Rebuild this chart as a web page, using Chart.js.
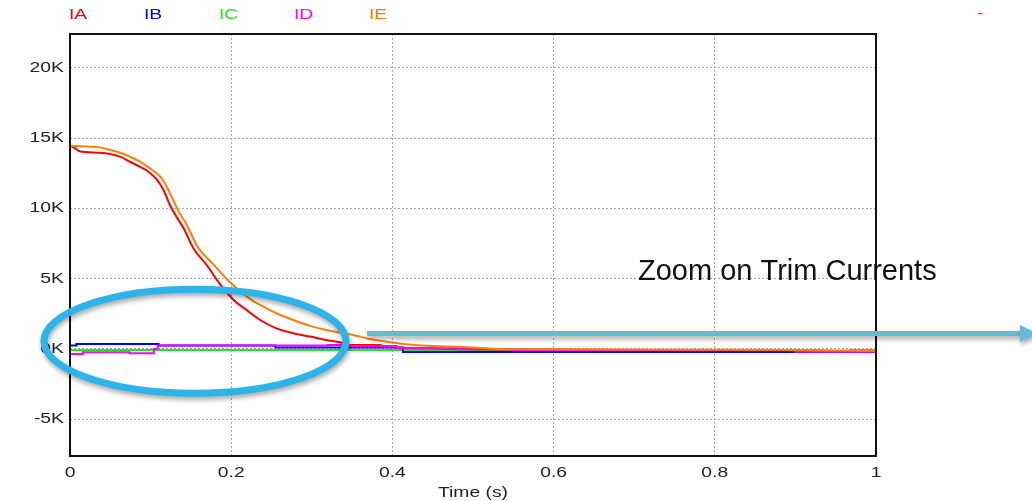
<!DOCTYPE html>
<html>
<head>
<meta charset="utf-8">
<script src="https://cdn.jsdelivr.net/npm/chart.js@4.4.0/dist/chart.umd.min.js"></script>
<style>
    html, body { margin: 0; padding: 0; background: #fff; }
</style>
</head>
<body>
<canvas id="myChart" width="1032" height="501"></canvas>
<script>
// trim currents, time in seconds, current in amps
const iaTime = [0, 0.006, 0.012, 0.037, 0.062, 0.074, 0.087, 0.099, 0.108, 0.116, 0.124, 0.132, 0.141, 0.153, 0.170, 0.185, 0.203, 0.219, 0.236, 0.256, 0.277, 0.298, 0.318, 0.335, 0.347, 0.385, 0.390, 0.450, 0.500, 0.900, 1.0];
const iaAmps = [14450, 14300, 14070, 13970, 13690, 13330, 12970, 12550, 12030, 11320, 10250, 9420, 8590, 7170, 5950, 4700, 3490, 2780, 2060, 1470, 1120, 880, 640, 480, 290, 280, 150, 50, -20, -100, -200];

const ibTime = [0, 0.008, 0.110, 0.255, 0.413, 0.900, 1.0];
const ibAmps = [240, 360, 240, 100, -210, -210, -200];

const icTime = [0, 0.460, 0.900, 0.968, 1.0];
const icAmps = [-70, -70, -200, -70, -70];

const idTime = [0, 0.016, 0.074, 0.104, 0.109, 0.320, 0.347, 0.405, 0.480, 0.550, 0.900, 1.0];
const idAmps = [-360, -240, -300, 0, 240, 290, 210, 50, -20, -100, -200, -200];

const ieTime = [0, 0.025, 0.037, 0.050, 0.062, 0.074, 0.087, 0.099, 0.112, 0.120, 0.128, 0.136, 0.145, 0.157, 0.161, 0.180, 0.194, 0.225, 0.240, 0.256, 0.277, 0.298, 0.318, 0.339, 0.351, 0.372, 0.397, 0.426, 0.484, 0.540, 0.900, 1.0];
const ieAmps = [14470, 14400, 14350, 14160, 13970, 13690, 13330, 12860, 12260, 11550, 10600, 9660, 8830, 7400, 7050, 5900, 5000, 3490, 3010, 2540, 2060, 1640, 1350, 1120, 1000, 710, 480, 280, 160, -20, -70, -150];

const xTickValues = [0, 0.2, 0.4, 0.6, 0.8, 1];
const xTickLabels = ['0', '0.2', '0.4', '0.6', '0.8', '1'];
const yTickValues = [-5000, 0, 5000, 10000, 15000, 20000];
const yTickLabels = ['-5K', '0K', '5K', '10K', '15K', '20K'];

const FONT = '14px "Liberation Sans", Arial, sans-serif';
const STRETCH = 1.38;

function pts(t, v) {
    return t.map((x, i) => ({ x: x, y: v[i] }));
}

// axis text in the plot is drawn wide
function wideText(ctx, text, x, y, align) {
    ctx.save();
    ctx.translate(x, y);
    ctx.scale(STRETCH, 1);
    ctx.textAlign = align;
    ctx.fillText(text, 0, 0);
    ctx.restore();
}

const frameAndLabels = {
    id: 'frameAndLabels',
    afterDraw(chart) {
        const ctx = chart.ctx;
        const a = chart.chartArea;
        const xs = chart.scales.x;
        const ys = chart.scales.y;

        // plot frame
        ctx.save();
        ctx.strokeStyle = '#111';
        ctx.lineWidth = 2;
        ctx.strokeRect(a.left, a.top, a.right - a.left, a.bottom - a.top);

        ctx.font = FONT;
        ctx.fillStyle = '#222';
        ctx.textBaseline = 'middle';
        yTickValues.forEach((v, i) => {
            wideText(ctx, yTickLabels[i], a.left - 6, ys.getPixelForValue(v), 'right');
        });
        xTickValues.forEach((v, i) => {
            wideText(ctx, xTickLabels[i], xs.getPixelForValue(v), a.bottom + 17, 'center');
        });
        wideText(ctx, 'Time (s)', (a.left + a.right) / 2, a.bottom + 37, 'center');

        // series names along the top
        chart.data.datasets.forEach((ds, i) => {
            ctx.fillStyle = ds.borderColor;
            wideText(ctx, ds.label, a.left - 1 + 75 * i, 15, 'left');
        });
        ctx.fillStyle = chart.data.datasets[3].borderColor;
        wideText(ctx, '-', 977, 14, 'left');
        ctx.restore();
    }
};

const callout = {
    id: 'callout',
    afterDraw(chart) {
        const ctx = chart.ctx;
        const xs = chart.scales.x;
        const ys = chart.scales.y;

        ctx.save();
        ctx.shadowColor = 'rgba(0, 0, 0, 0.35)';
        ctx.shadowBlur = 5;
        ctx.shadowOffsetX = 1;
        ctx.shadowOffsetY = 3;

        // ring round the small currents
        ctx.beginPath();
        ctx.ellipse(xs.getPixelForValue(0.155), ys.getPixelForValue(550), 151, 52, 0, 0, Math.PI * 2);
        ctx.strokeStyle = '#2db4ea';
        ctx.lineWidth = 7;
        ctx.stroke();

        // arrow to the right
        const ay = ys.getPixelForValue(1100);
        ctx.fillStyle = '#63bcd8';
        ctx.fillRect(367, ay - 2.5, 654, 5);
        ctx.beginPath();
        ctx.moveTo(1020, ay - 8.5);
        ctx.lineTo(1037, ay);
        ctx.lineTo(1020, ay + 8.5);
        ctx.closePath();
        ctx.fill();
        ctx.restore();

        ctx.save();
        ctx.font = '29px "Liberation Sans", Arial, sans-serif';
        ctx.fillStyle = '#111';
        ctx.textBaseline = 'alphabetic';
        ctx.textAlign = 'left';
        ctx.fillText('Zoom on Trim Currents', 638, 280);
        ctx.restore();
    }
};

const data = {
    datasets: [
        { label: 'IA', data: pts(iaTime, iaAmps), borderColor: '#ff0000', cubicInterpolationMode: 'monotone', order: 2 },
        { label: 'IB', data: pts(ibTime, ibAmps), borderColor: '#0000ff', stepped: true, order: 3 },
        { label: 'IC', data: pts(icTime, icAmps), borderColor: '#22e622', stepped: true, order: 4 },
        { label: 'ID', data: pts(idTime, idAmps), borderColor: '#ff00ff', stepped: true, order: 1 },
        { label: 'IE', data: pts(ieTime, ieAmps), borderColor: '#ff8000', cubicInterpolationMode: 'monotone', order: 0 }
    ]
};

const gridStyle = { color: '#aaa', lineWidth: 1, drawTicks: false };

const config = {
    type: 'line',
    data,
    options: {
        responsive: false,
        animation: false,
        layout: { padding: { left: 70, right: 156, top: 34, bottom: 45 } },
        elements: {
            point: { radius: 0 },
            line: { borderWidth: 2, tension: 0, fill: false }
        },
        plugins: {
            legend: { display: false },
            tooltip: { enabled: false }
        },
        scales: {
            x: {
                type: 'linear',
                min: 0,
                max: 1,
                grid: gridStyle,
                border: { display: false, dash: [2, 2] },
                ticks: { display: false },
                afterBuildTicks: s => { s.ticks = xTickValues.map(v => ({ value: v })); },
                afterFit: s => { s.height = 0; }
            },
            y: {
                type: 'linear',
                min: -7620,
                max: 22420,
                grid: gridStyle,
                border: { display: false, dash: [2, 2] },
                ticks: { display: false },
                afterBuildTicks: s => { s.ticks = yTickValues.map(v => ({ value: v })); },
                afterFit: s => { s.width = 0; }
            }
        }
    },
    plugins: [frameAndLabels, callout]
};

const myChart = new Chart(document.getElementById('myChart'), config);
</script>
</body>
</html>
